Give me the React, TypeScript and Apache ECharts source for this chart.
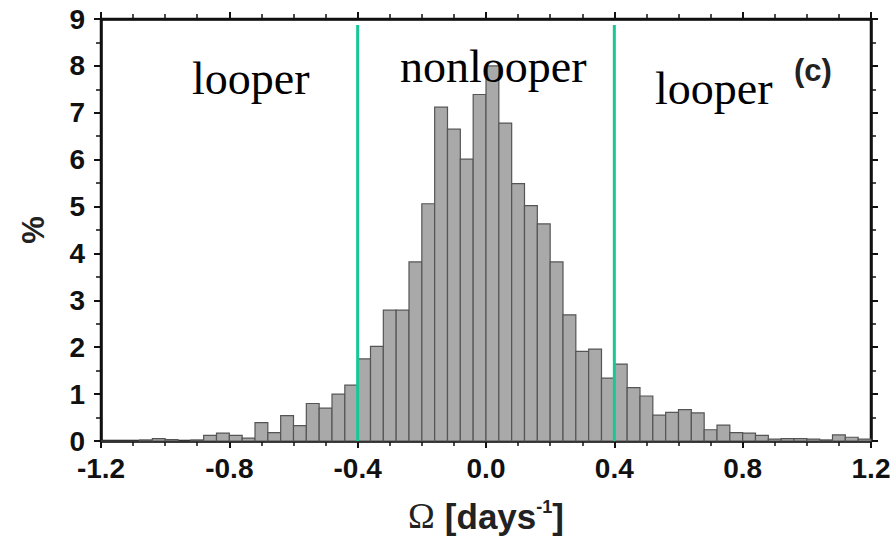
import React, { useEffect, useRef } from "react";
import * as echarts from "echarts";

// Histogram bins: left edge of each bin (Ω, days^-1) and percent in the bin
const binWidth = 0.04;
const binLeft = [
  -1.2, -1.16, -1.12, -1.08, -1.04, -1.0, -0.96, -0.92, -0.88, -0.84,
  -0.8, -0.76, -0.72, -0.68, -0.64, -0.6, -0.56, -0.52, -0.48, -0.44,
  -0.4, -0.36, -0.32, -0.28, -0.24, -0.2, -0.16, -0.12, -0.08, -0.04,
  0.0, 0.04, 0.08, 0.12, 0.16, 0.2, 0.24, 0.28, 0.32, 0.36,
  0.4, 0.44, 0.48, 0.52, 0.56, 0.6, 0.64, 0.68, 0.72, 0.76,
  0.8, 0.84, 0.88, 0.92, 0.96, 1.0, 1.04, 1.08, 1.12, 1.16,
];
const percent = [
  0, 0, 0, 0.02, 0.05, 0.03, 0, 0.02, 0.12, 0.17,
  0.12, 0.06, 0.39, 0.18, 0.54, 0.33, 0.8, 0.7, 1.0, 1.19,
  1.75, 2.02, 2.79, 2.79, 3.82, 5.06, 7.12, 6.65, 6.01, 7.39,
  8.0, 6.78, 5.49, 5.02, 4.63, 3.82, 2.69, 1.91, 1.96, 1.34,
  1.64, 1.14, 0.96, 0.55, 0.61, 0.67, 0.6, 0.24, 0.34, 0.18,
  0.17, 0.12, 0.04, 0.05, 0.05, 0.04, 0.02, 0.13, 0.08, 0.04,
];

// Looper / nonlooper boundaries
const boundaries = [-0.4, 0.4];
const boundaryTop = 8.87;

const xTicks = { min: -1.2, max: 1.2, interval: 0.4 };
const yTicks = { min: 0, max: 9, interval: 1 };

const labelFont = "Liberation Sans, Arial, sans-serif";
const serifFont = "Liberation Serif, serif";
const ink = "#111111";

export default function App() {
  const ref = useRef<HTMLDivElement>(null);

  useEffect(() => {
    if (!ref.current) return;
    const chart = echarts.init(ref.current, null, { renderer: "svg" });

    const histData = binLeft.map((l, i) => [l, l + binWidth, percent[i]]);

    const axisLine = () => ({ show: true, onZero: false, lineStyle: { color: ink, width: 2.5 } });
    const axisTick = () => ({ show: true, inside: false, length: 7, lineStyle: { color: ink, width: 2 } });
    const minorTick = (n: number) => ({
      show: true,
      splitNumber: n,
      length: 5,
      lineStyle: { color: ink, width: 1.5 },
    });
    const labelStyle = {
      fontFamily: labelFont,
      fontWeight: "bold" as const,
      fontSize: 28,
      color: ink,
    };

    const option: any = {
      animation: false,
      backgroundColor: "#ffffff",
      grid: {
        left: 101,
        right: 24,
        top: 19,
        bottom: 99,
        containLabel: false,
        show: true,
        borderColor: ink,
        borderWidth: 2.5,
      },
      xAxis: [
        {
          type: "value",
          position: "bottom",
          ...xTicks,
          axisLine: axisLine(),
          axisTick: axisTick(),
          minorTick: minorTick(4),
          splitLine: { show: false },
          axisLabel: {
            ...labelStyle,
            margin: 13,
            formatter: (v: number) => v.toFixed(1),
          },
          name: "{o|Ω}   {b|[days}{s|-1}{b|]}",
          nameLocation: "middle",
          nameGap: 57,
          nameTextStyle: {
            rich: {
              o: { fontFamily: serifFont, fontSize: 36, color: "#222", verticalAlign: "bottom" },
              b: { fontFamily: labelFont, fontWeight: "bold", fontSize: 35, color: "#222", verticalAlign: "bottom" },
              s: { fontFamily: labelFont, fontWeight: "bold", fontSize: 18, color: "#222", verticalAlign: "top", padding: [0, 0, 17, 0] },
            },
          },
        },
        {
          type: "value",
          position: "top",
          ...xTicks,
          axisLine: axisLine(),
          axisTick: axisTick(),
          minorTick: minorTick(4),
          splitLine: { show: false },
          axisLabel: { show: false },
        },
      ],
      yAxis: [
        {
          type: "value",
          position: "left",
          ...yTicks,
          axisLine: axisLine(),
          axisTick: axisTick(),
          minorTick: minorTick(2),
          splitLine: { show: false },
          axisLabel: { ...labelStyle, margin: 16 },
          name: "%",
          nameLocation: "middle",
          nameRotate: 90,
          nameGap: 52,
          nameTextStyle: { fontFamily: labelFont, fontWeight: "bold", fontSize: 31, color: "#222" },
        },
        {
          type: "value",
          position: "right",
          ...yTicks,
          axisLine: axisLine(),
          axisTick: axisTick(),
          minorTick: minorTick(2),
          splitLine: { show: false },
          axisLabel: { show: false },
        },
      ],
      series: [
        {
          type: "custom",
          xAxisIndex: 0,
          yAxisIndex: 0,
          data: histData,
          encode: { x: [0, 1], y: 2 },
          renderItem: (params: any, api: any) => {
            const p0 = api.coord([api.value(0), api.value(2)]);
            const p1 = api.coord([api.value(1), 0]);
            return {
              type: "rect",
              shape: { x: p0[0], y: p0[1], width: p1[0] - p0[0], height: p1[1] - p0[1] },
              style: { fill: "#a9a9a9", stroke: "#555555", lineWidth: 1.2 },
            };
          },
          z: 2,
        },
        ...boundaries.map((b) => ({
          type: "line",
          xAxisIndex: 0,
          yAxisIndex: 0,
          data: [
            [b, 0],
            [b, boundaryTop],
          ],
          symbol: "none",
          lineStyle: { color: "#17c795", width: 3 },
          z: 5,
        })),
      ],
      graphic: [
        {
          type: "text",
          left: 192,
          top: 55,
          style: { text: "looper", fontFamily: serifFont, fontSize: 46, fill: "#000" },
          z: 10,
        },
        {
          type: "text",
          left: 400,
          top: 43,
          style: { text: "nonlooper", fontFamily: serifFont, fontSize: 46, fill: "#000" },
          z: 10,
        },
        {
          type: "text",
          left: 655,
          top: 65,
          style: { text: "looper", fontFamily: serifFont, fontSize: 46, fill: "#000" },
          z: 10,
        },
        {
          type: "text",
          left: 794,
          top: 55,
          style: { text: "(c)", fontFamily: labelFont, fontWeight: "bold", fontSize: 31, fill: "#222" },
          z: 10,
        },
      ],
    };

    chart.setOption(option);
    return () => chart.dispose();
  }, []);

  return (
    <div
      ref={ref}
      style={{ position: "fixed", left: 0, top: 0, width: 895, height: 540, background: "#fff" }}
    />
  );
}
